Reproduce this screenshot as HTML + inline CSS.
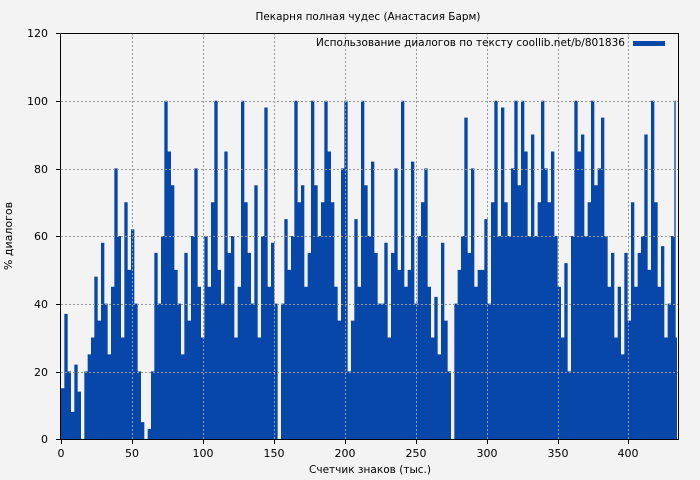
<!DOCTYPE html>
<html><head><meta charset="utf-8"><style>
body{margin:0;background:#f3f3f3;}
svg{display:block;font-family:"DejaVu Sans","Liberation Sans",sans-serif;}
</style></head><body>
<svg width="700" height="480" xmlns="http://www.w3.org/2000/svg">
<rect width="700" height="480" fill="#f3f3f3"/>
<g transform="translate(61,439) scale(3.3333,-3.383)">
<path fill="#0747aa" d="M0 0 V15 h1 V37 h1 V20 h1 V8 h1 V22 h1 V14 h1 V0 h1 V20 h1 V25 h1 V30 h1 V48 h1 V35 h1 V58 h1 V40 h1 V25 h1 V45 h1 V80 h1 V60 h1 V30 h1 V70 h1 V50 h1 V62 h1 V40 h1 V20 h1 V5 h1 V0 h1 V3 h1 V20 h1 V55 h1 V40 h1 V60 h1 V100 h1 V85 h1 V75 h1 V50 h1 V40 h1 V25 h1 V55 h1 V35 h1 V60 h1 V80 h1 V45 h1 V30 h1 V60 h1 V45 h1 V70 h1 V100 h1 V50 h1 V40 h1 V85 h1 V55 h1 V60 h1 V30 h1 V45 h1 V100 h1 V70 h1 V55 h1 V40 h1 V75 h1 V30 h1 V60 h1 V98 h1 V45 h1 V58 h1 V40 h1 V0 h1 V40 h1 V65 h1 V50 h1 V60 h1 V100 h1 V70 h1 V75 h1 V45 h1 V55 h1 V100 h1 V75 h1 V60 h1 V70 h1 V100 h1 V85 h1 V70 h1 V45 h1 V35 h1 V80 h1 V100 h1 V20 h1 V35 h1 V65 h1 V45 h1 V100 h1 V75 h1 V60 h1 V82 h1 V55 h1 V40 h1 V40 h1 V58 h1 V30 h1 V55 h1 V80 h1 V50 h1 V100 h1 V45 h1 V50 h1 V82 h1 V40 h1 V60 h1 V70 h1 V80 h1 V45 h1 V30 h1 V42 h1 V25 h1 V58 h1 V35 h1 V20 h1 V0 h1 V40 h1 V50 h1 V60 h1 V95 h1 V55 h1 V80 h1 V45 h1 V50 h1 V50 h1 V65 h1 V40 h1 V70 h1 V100 h1 V60 h1 V98 h1 V70 h1 V60 h1 V80 h1 V100 h1 V75 h1 V100 h1 V85 h1 V60 h1 V90 h1 V60 h1 V70 h1 V100 h1 V80 h1 V70 h1 V85 h1 V60 h1 V45 h1 V30 h1 V52 h1 V20 h1 V60 h1 V100 h1 V85 h1 V90 h1 V60 h1 V70 h1 V100 h1 V75 h1 V80 h1 V95 h1 V60 h1 V45 h1 V55 h1 V30 h1 V45 h1 V25 h1 V55 h1 V35 h1 V70 h1 V45 h1 V55 h1 V60 h1 V90 h1 V50 h1 V100 h1 V70 h1 V45 h1 V57 h1 V30 h1 V40 h1 V60 h1 V100 h0.4 V30 h0.4 V0 Z"/>
</g>
<g stroke="#999" stroke-dasharray="2,2" stroke-width="1" fill="none">
<line x1="61" x2="679" y1="101.5" y2="101.5"/><line x1="61" x2="679" y1="169.5" y2="169.5"/>
<line x1="61" x2="679" y1="236.5" y2="236.5"/><line x1="61" x2="679" y1="304.5" y2="304.5"/>
<line x1="61" x2="679" y1="372.5" y2="372.5"/>
<line y1="33" y2="439" x1="132.5" x2="132.5"/><line y1="33" y2="439" x1="203.5" x2="203.5"/>
<line y1="33" y2="439" x1="274.5" x2="274.5"/><line y1="33" y2="439" x1="345.5" x2="345.5"/>
<line y1="33" y2="439" x1="416.5" x2="416.5"/><line y1="33" y2="439" x1="487.5" x2="487.5"/>
<line y1="33" y2="439" x1="558.5" x2="558.5"/><line y1="33" y2="439" x1="628.5" x2="628.5"/>
</g>
<rect x="60.5" y="33.5" width="618" height="406" fill="none" stroke="#000"/>
<g stroke="#000">
<line x1="56" x2="61" y1="33.5" y2="33.5"/><line x1="56" x2="61" y1="101.5" y2="101.5"/><line x1="56" x2="61" y1="169.5" y2="169.5"/><line x1="56" x2="61" y1="236.5" y2="236.5"/><line x1="56" x2="61" y1="304.5" y2="304.5"/><line x1="56" x2="61" y1="372.5" y2="372.5"/><line x1="56" x2="61" y1="439.5" y2="439.5"/>
<line y1="439" y2="444" x1="61.5" x2="61.5"/><line y1="439" y2="444" x1="132.5" x2="132.5"/><line y1="439" y2="444" x1="203.5" x2="203.5"/><line y1="439" y2="444" x1="274.5" x2="274.5"/><line y1="439" y2="444" x1="345.5" x2="345.5"/><line y1="439" y2="444" x1="416.5" x2="416.5"/><line y1="439" y2="444" x1="487.5" x2="487.5"/><line y1="439" y2="444" x1="558.5" x2="558.5"/><line y1="439" y2="444" x1="628.5" x2="628.5"/>
</g>
<g font-size="11" fill="#000" text-anchor="end">
<text x="48" y="37">120</text><text x="48" y="105">100</text><text x="48" y="173">80</text><text x="48" y="240">60</text><text x="48" y="308">40</text><text x="48" y="376">20</text><text x="48" y="443">0</text>
</g>
<g font-size="11" fill="#000" text-anchor="middle">
<text x="61" y="457">0</text><text x="132" y="457">50</text><text x="203" y="457">100</text><text x="274" y="457">150</text><text x="345" y="457">200</text><text x="416" y="457">250</text><text x="487" y="457">300</text><text x="558" y="457">350</text><text x="628" y="457">400</text>
<text x="370" y="473" textLength="122" lengthAdjust="spacingAndGlyphs">Счетчик знаков (тыс.)</text>
<text x="368" y="20" textLength="225" lengthAdjust="spacingAndGlyphs">Пекарня полная чудес (Анастасия Барм)</text>
<text transform="translate(12,236) rotate(-90)">% диалогов</text>
</g>
<text x="316" y="46" font-size="11" textLength="309" lengthAdjust="spacingAndGlyphs">Использование диалогов по тексту coollib.net/b/801836</text>
<rect x="633" y="41" width="32" height="5" fill="#0747aa"/>
</svg>
</body></html>
